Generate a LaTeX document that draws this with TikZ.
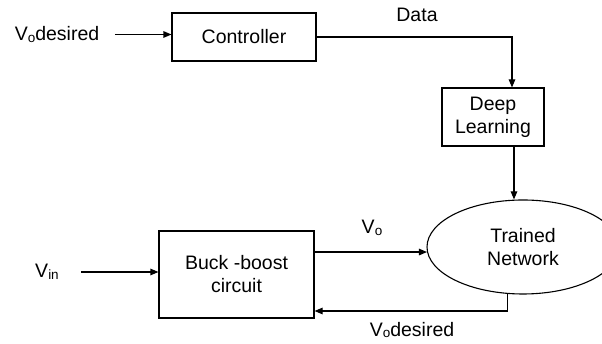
\documentclass[tikz,border=0pt]{standalone}
\usepackage{fontspec}
\setmainfont{Liberation Sans}
\usetikzlibrary{arrows.meta,shapes.geometric,calc}

\newcommand{\lowsub}[1]{\raisebox{-1.5pt}{\fontsize{13.5}{15}\selectfont #1}}

\tikzset{
  blk/.style={draw,align=center,inner sep=0pt},
  lbl/.style={inner sep=0pt},
}

\begin{document}
\begin{tikzpicture}[x=1pt,y=1pt,line width=1.1pt,>={Triangle[length=8pt,width=6.5pt]},
  every node/.style={font=\fontsize{19.5}{23}\selectfont}]
\useasboundingbox (0,0) rectangle (602,344);

% blocks
\node[blk,minimum width=144pt,minimum height=48pt] (ctrl) at (244,307) {Controller};
\node[blk,minimum width=102pt,minimum height=58pt] (dl) at (493,227) {Deep\\Learning};
\node[blk,ellipse,minimum width=192pt,minimum height=94pt] (tn) at (523,97) {Trained\\Network};
\node[blk,minimum width=155pt,minimum height=87pt] (bb) at (236.5,69.5) {Buck -boost\\circuit};

% labels
\node[lbl] (vdes) at (57,309.5) {V\lowsub{o}desired};
\node[lbl] (data) at (417,329) {Data};
\node[lbl] (vin) at (47,72) {V\lowsub{in}};
\node[lbl] (vo) at (372,116) {V\lowsub{o}};
\node[lbl] (vfb) at (412,14) {V\lowsub{o}desired};

% connections
\draw[->] ([xshift=15pt]vdes.east) -- (ctrl.west |- vdes.east);
\draw[->] (ctrl.east) -| ([xshift=19pt]dl.north);
\draw[->] ([xshift=21pt]dl.south) -- ([xshift=21pt]dl.south |- tn.north);
\draw[->] ([xshift=22pt]vin.east) -- (bb.west |- vin.east);
\draw[->] (bb.east |- tn.183) -- (tn.183);
\draw[->] (tn.252) |- ([yshift=-36.5pt]bb.east);

\end{tikzpicture}
\end{document}
